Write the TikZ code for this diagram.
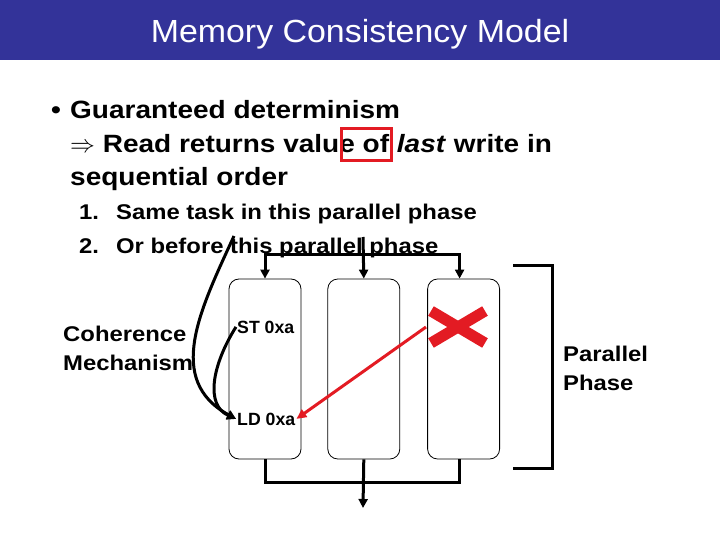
\documentclass[tikz,border=0pt]{standalone}
\usepackage{fontspec}
\setmainfont{Liberation Sans}[FakeStretch=1.12]
\newfontfamily\titlefont{Liberation Sans}[FakeStretch=1.06]
\newfontfamily\codefont{Liberation Sans}
\usepackage{xcolor}
\definecolor{slidenavy}{HTML}{333399}
\definecolor{hlred}{HTML}{E31B23}
\usepackage{tikz}
\usetikzlibrary{positioning,arrows.meta}

\begin{document}
\begin{tikzpicture}[x=1pt, y=-1pt,
  task/.style={rectangle, draw=black, line width=0.8pt, rounded corners=10pt,
               minimum width=72pt, minimum height=180pt, inner sep=0pt},
  point/.style={anchor=base west, inner sep=0pt, font=\fontsize{25}{30}\selectfont\bfseries},
  subpoint/.style={anchor=base west, inner sep=0pt, font=\fontsize{21.3}{26}\selectfont\bfseries},
  side/.style={subpoint, align=left},
  op/.style={anchor=base west, inner sep=1pt, font=\codefont\fontsize{17.7}{20}\selectfont\bfseries},
  wire/.style={draw=black, line width=3pt},
  flow/.style={wire, -{Triangle[length=9pt,width=9pt]}},
  redflow/.style={draw=hlred, line width=3pt, -{Triangle[length=10pt,width=9pt]}}
]
\useasboundingbox (0,0) rectangle (720,540);
% title bar
\fill[slidenavy] (0,0) rectangle (720,60);
\node[anchor=base, text=white, font=\titlefont\fontsize{32}{36}\selectfont] (title) at (360,43) {Memory Consistency Model};

% bullet text
\node[point] (dot) at (51,119) {\textbullet};
\node[point] (l1) at (70,119) {Guaranteed determinism};
\node[point] (l2) at (70,152.5) {$\Rightarrow$ Read returns value of \textit{last} write in};
\node[point] (l3) at (70,186) {sequential order};
\node[subpoint] (s1) at (79,220) {\makebox[37pt][l]{1.}Same task in this parallel phase};
\node[subpoint] (s2) at (79,254) {\makebox[37pt][l]{2.}Or before this parallel phase};
\draw[hlred, line width=3pt] (341,129) rectangle (391,161);

% tasks of the phase
\node[task] (task1) at (265,369) {};
\node[task, right=26pt of task1] (task2) {};
\node[task, right=27pt of task2] (task3) {};

\node[op] (st) at (236,333) {ST 0xa};
\node[op] (ld) at (236,425) {LD 0xa};
\node[side] (coh) at (63,370) {Coherence\\[2.5pt]Mechanism};
\node[side] (par) at (563,390) {Parallel\\[2.5pt]Phase};

% fork and join
\coordinate (feed) at (363,237);
\coordinate (split) at (363,254);
\coordinate (exit) at (363,508);
\draw[flow] (feed) -- (task2.north);
\draw[flow] (split) -| (task1.north);
\draw[flow] (split) -| ([xshift=-4pt]task3.north);
\draw[wire] (task1.south) -- ++(0,23) -| ([xshift=-4pt]task3.south);
\draw[flow] (task2.south) -- (exit);
\draw[wire] (513,265) -- (552,265) -- (552,468) -- (513,468);

% where the load gets its value
\coordinate (above) at (234,236);
\draw[flow] (above) .. controls (200,310) and (165,380) .. (ld.west);
\draw[flow] (st.west) .. controls (212,365) and (205,405) .. (ld.west);

\coordinate (miss) at (458,327);
\draw[hlred, line width=11pt] ([shift={(-27,-16)}]miss) -- ([shift={(27,16)}]miss);
\draw[hlred, line width=11pt] ([shift={(-27,16)}]miss) -- ([shift={(27,-16)}]miss);
\draw[redflow] ([xshift=-32pt]miss) -- (ld.east);
\end{tikzpicture}
\end{document}
